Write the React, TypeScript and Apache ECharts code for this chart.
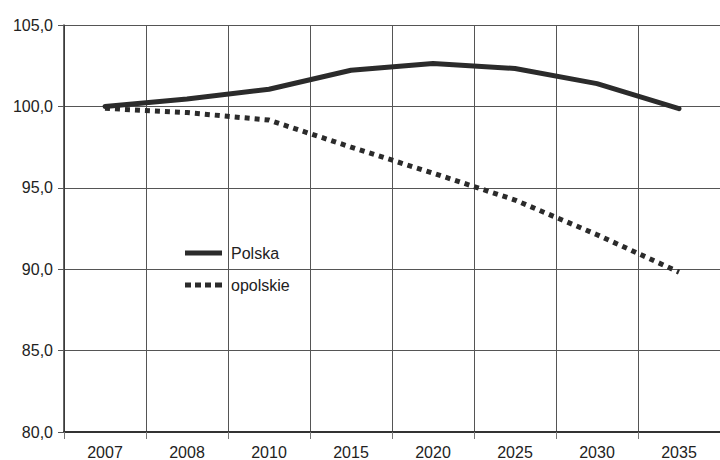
import React, { useEffect, useRef } from "react";
import * as echarts from "echarts";

const categories = ["2007", "2008", "2010", "2015", "2020", "2025", "2030", "2035"];
const polska = [100.0, 100.45, 101.05, 102.22, 102.63, 102.33, 101.4, 99.86];
const opolskie = [99.88, 99.62, 99.16, 97.5, 95.9, 94.25, 92.12, 89.82];
const yTicks = { min: 80, max: 105, interval: 5 };

const FONT = "'Liberation Sans', Arial, sans-serif";
const INK = "#2b2b2b";

export default function App() {
  const ref = useRef<HTMLDivElement>(null);
  useEffect(() => {
    if (!ref.current) return;
    const chart = echarts.init(ref.current, undefined, { renderer: "svg" });
    chart.setOption({
      animation: false,
      backgroundColor: "#fff",
      textStyle: { fontFamily: FONT },
      grid: { left: 64, top: 25, width: 660, height: 407 },
      legend: {
        orient: "vertical",
        left: 180,
        top: 240,
        itemWidth: 37,
        itemHeight: 5,
        itemGap: 16,
        textStyle: { fontFamily: FONT, fontSize: 16, color: "#222", padding: [0, 0, 0, 4] },
        data: [
          { name: "Polska", icon: "path://M0,0H37V5H0Z", itemStyle: { color: INK } },
          {
            name: "opolskie",
            icon: "path://M0,0h6v5h-6zM10,0h6v5h-6zM20,0h6v5h-6zM30,0h6v5h-6zM36,0h1v5h-1z",
            itemStyle: { color: INK },
          },
        ],
      },
      xAxis: {
        type: "category",
        data: categories,
        boundaryGap: true,
        axisLine: { show: true, lineStyle: { color: "#333", width: 2 } },
        axisTick: { show: true, length: 7, alignWithLabel: false, lineStyle: { color: "#777" } },
        axisLabel: { fontFamily: FONT, fontSize: 16, color: "#222", margin: 12 },
        splitLine: { show: true, lineStyle: { color: "#555", width: 1 } },
      },
      yAxis: {
        type: "value",
        min: yTicks.min,
        max: yTicks.max,
        interval: yTicks.interval,
        axisLine: { show: true, lineStyle: { color: "#333", width: 1.5 } },
        axisTick: { show: true, length: 6, lineStyle: { color: "#555" } },
        axisLabel: {
          fontFamily: FONT,
          fontSize: 16,
          color: "#222",
          margin: 11,
          formatter: (v: number) => v.toFixed(1).replace(".", ","),
        },
        splitLine: { show: true, lineStyle: { color: "#555", width: 1 } },
      },
      series: [
        {
          name: "Polska",
          type: "line",
          data: polska,
          symbol: "none",
          lineStyle: { width: 5, color: INK, cap: "round", join: "round" },
          itemStyle: { color: INK },
        },
        {
          name: "opolskie",
          type: "line",
          data: opolskie,
          symbol: "none",
          lineStyle: { width: 5, color: INK, type: [5, 5], cap: "butt" },
          itemStyle: { color: INK },
        },
      ],
    });
    return () => chart.dispose();
  }, []);
  return (
    <div
      ref={ref}
      style={{ position: "fixed", left: 0, top: 0, width: 720, height: 460 }}
    />
  );
}
